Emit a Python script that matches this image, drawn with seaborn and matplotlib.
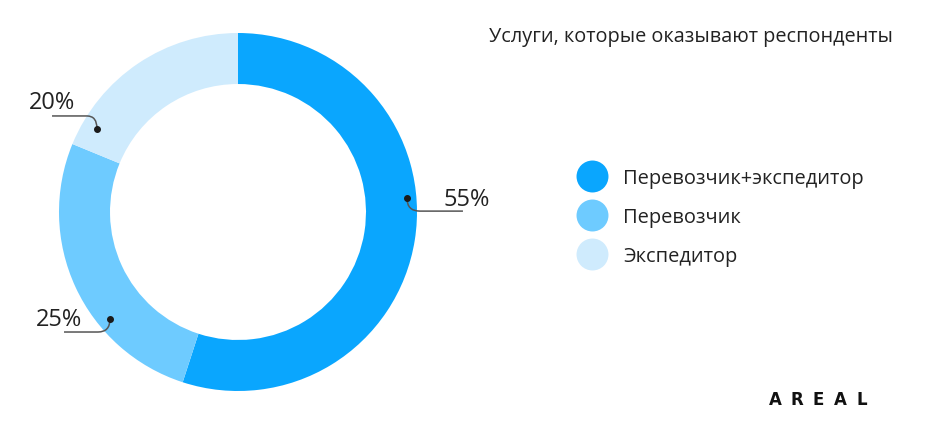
import numpy as np
import matplotlib
matplotlib.use("Agg")
import matplotlib.pyplot as plt
import seaborn as sns
from matplotlib.path import Path
from matplotlib.patches import PathPatch
from matplotlib.lines import Line2D

# === data ===
categories = ["Перевозчик+экспедитор", "Перевозчик", "Экспедитор"]
shares = [55, 26.2, 18.8]          # wedge sizes as drawn in the picture
share_labels = ["55%", "25%", "20%"]  # labels as printed
colors = ["#0aa6fe", "#6ecbff", "#cfebfd"]
title = "Услуги, которые оказывают респонденты"
brand = "AREAL"

# leader line layout: dot radius/angle, elbow dx/dy (px), horizontal length (px), label offset (px)
leader_r = [0.947, 0.932, 0.914]
leader_angles = [4.7, 219.9, 149.5]
leader_elbow = [(13, -13), (-12, -13), (-10, 13)]
leader_len = [43, -34, -35]
label_off = [(4, 12), (-5, 13), (0, 14)]

# === style ===
sns.set_theme(style="white")
plt.rcParams["font.family"] = ["Open Sans", "DejaVu Sans"]
text_color = "#222222"

W, H = 930, 431
fig = plt.figure(figsize=(W / 100, H / 100), dpi=100)
fig.patch.set_facecolor("white")

# donut: center (238, 213) px, outer radius 179 px
cx, cy, R = 238, 213, 179
ax = fig.add_axes([(cx - R) / W, (H - cy - R) / H, 2 * R / W, 2 * R / H])
ax.pie(shares, colors=colors, startangle=90, counterclock=False, radius=1,
       wedgeprops=dict(width=0.285, edgecolor="none"))
ax.set_xlim(-1, 1)
ax.set_ylim(-1, 1)
ax.set_aspect("equal")
ax.axis("off")

px = 1.0 / R  # one pixel in data units
for lab, r, ang, (ex, ey), L, (tx, ty) in zip(share_labels, leader_r, leader_angles,
                                               leader_elbow, leader_len, label_off):
    a = np.deg2rad(ang)
    x0, y0 = r * np.cos(a), r * np.sin(a)
    x1, y1 = x0 + ex * px, y0 + ey * px
    x2 = x1 + L * px
    path = Path([(x0, y0), (x0, y1), (x1, y1), (x2, y1)],
                [Path.MOVETO, Path.CURVE3, Path.CURVE3, Path.LINETO])
    ax.add_patch(PathPatch(path, facecolor="none", edgecolor="#555555", lw=1.1, clip_on=False))
    ax.plot([x0], [y0], "o", color="#1a1a1a", ms=4, clip_on=False)
    ax.text(x2 + tx * px, y1 + ty * px, lab, ha="center", va="center",
            fontsize=17, color=text_color, clip_on=False)

# legend
handles = [Line2D([], [], marker="o", ls="none", ms=23, markerfacecolor=c,
                  markeredgecolor="none") for c in colors]
fig.legend(handles, categories, loc="center left", bbox_to_anchor=(580 / W, 1 - 218 / H),
           frameon=False, fontsize=14.4, labelcolor=text_color, handlelength=1.2,
           handletextpad=0.95, labelspacing=0.93, borderaxespad=0, borderpad=0)

fig.text(489 / W, 1 - 37 / H, title, ha="left", va="center", fontsize=14.3, color=text_color)

# logo, letter-spaced
for i, ch in enumerate(brand):
    fig.text((775 + 21.8 * i) / W, 1 - 400 / H, ch, ha="center", va="center", fontsize=12,
             fontweight="bold", family="DejaVu Sans", color="#111111")

fig.savefig("out.png", dpi=100)
